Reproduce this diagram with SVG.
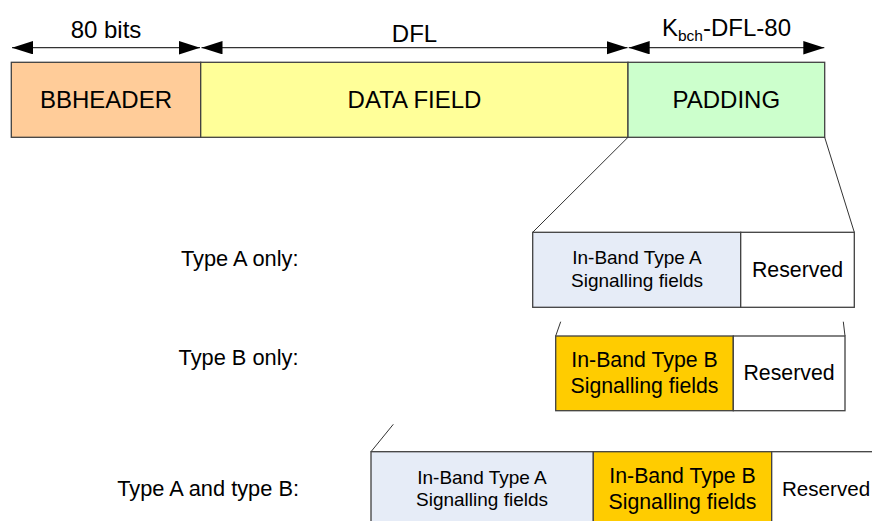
<svg xmlns="http://www.w3.org/2000/svg" width="872" height="521" viewBox="0 0 872 521">
<defs>
<marker id="ah" markerUnits="userSpaceOnUse" markerWidth="22" markerHeight="14" refX="21" refY="6.7" orient="auto-start-reverse">
<path d="M0,0 L21,6.7 L0,13.4 z" fill="#000"/>
</marker>
</defs>
<style>
text{font-family:"Liberation Sans",Arial,sans-serif;fill:#000}
.big{font-size:24px}
.mid{font-size:21.3px}
.lab{font-size:21.8px}
.sm{font-size:19px}
.box{stroke:#404040;stroke-width:1.3}
.dim{stroke:#333;stroke-width:1.2;fill:none}
.con{stroke:#333;stroke-width:1;fill:none}
</style>
<rect width="872" height="521" fill="#fff"/>
<g id="dimensions">
<line class="dim" x1="12" y1="47.7" x2="200" y2="47.7" marker-start="url(#ah)" marker-end="url(#ah)"/>
<line class="dim" x1="201.5" y1="47.7" x2="627.5" y2="47.7" marker-start="url(#ah)" marker-end="url(#ah)"/>
<line class="dim" x1="628.7" y1="47.7" x2="824.3" y2="47.7" marker-start="url(#ah)" marker-end="url(#ah)"/>
<text class="big" x="106" y="38" text-anchor="middle">80 bits</text>
<text class="big" x="414.5" y="42" text-anchor="middle">DFL</text>
<text class="big" x="726.5" y="36" text-anchor="middle">K<tspan font-size="15.5" dy="5">bch</tspan><tspan dy="-5">-DFL-80</tspan></text>
</g>
<g id="bbheader">
<rect class="box" x="11.3" y="62.3" width="189.4" height="75" fill="#FFCC99"/>
<text class="big" x="106" y="108" text-anchor="middle">BBHEADER</text>
</g>
<g id="datafield">
<rect class="box" x="200.7" y="62.3" width="427.3" height="75" fill="#FFFF99"/>
<text class="big" x="414.5" y="108" text-anchor="middle">DATA FIELD</text>
</g>
<g id="padding">
<rect class="box" x="628" y="62.3" width="196.7" height="75" fill="#CCFFCC"/>
<text class="big" x="726.3" y="108" text-anchor="middle">PADDING</text>
</g>
<g id="connectors">
<line class="con" x1="628" y1="137.3" x2="532.7" y2="232.3"/>
<line class="con" x1="824.7" y1="137.3" x2="854.3" y2="232.3"/>
<line class="con" x1="560.7" y1="321.7" x2="555.7" y2="336"/>
<line class="con" x1="843.3" y1="321.7" x2="845" y2="336"/>
<line class="con" x1="393.3" y1="424.3" x2="371" y2="451.7"/>
</g>
<g id="label-a">
<text class="lab" x="298.5" y="266" text-anchor="end">Type A only:</text>
</g>
<g id="label-b">
<text class="lab" x="298.5" y="365" text-anchor="end">Type B only:</text>
</g>
<g id="label-ab">
<text class="lab" x="299" y="496" text-anchor="end">Type A and type B:</text>
</g>
<g id="row-a">
<rect class="box" x="532.7" y="232.3" width="208" height="75" fill="#E6ECF7"/>
<rect class="box" x="740.7" y="232.3" width="113.6" height="75" fill="#fff"/>
<text class="sm" x="637" y="264.3" text-anchor="middle">In-Band Type A</text>
<text class="sm" x="637" y="286.5" text-anchor="middle">Signalling fields</text>
<text class="mid" x="797.5" y="277.3" text-anchor="middle">Reserved</text>
</g>
<g id="row-b">
<rect class="box" x="555.7" y="336" width="177.6" height="74.7" fill="#FFCC00"/>
<rect class="box" x="733.3" y="336" width="111.7" height="74.7" fill="#fff"/>
<text class="mid" x="644.5" y="366.7" text-anchor="middle">In-Band Type B</text>
<text class="mid" x="644.5" y="392.7" text-anchor="middle">Signalling fields</text>
<text class="mid" x="789" y="380" text-anchor="middle">Reserved</text>
</g>
<g id="row-ab">
<rect class="box" x="371" y="451.7" width="222.3" height="80" fill="#E6ECF7"/>
<rect class="box" x="593.3" y="451.7" width="178.4" height="80" fill="#FFCC00"/>
<rect class="box" x="771.7" y="451.7" width="120" height="80" fill="#fff"/>
<text class="sm" x="482" y="484" text-anchor="middle">In-Band Type A</text>
<text class="sm" x="482" y="505.7" text-anchor="middle">Signalling fields</text>
<text class="mid" x="682.5" y="482.7" text-anchor="middle">In-Band Type B</text>
<text class="mid" x="682.5" y="509" text-anchor="middle">Signalling fields</text>
<text x="782" y="496" font-size="20.6">Reserved</text>
</g>
</svg>
